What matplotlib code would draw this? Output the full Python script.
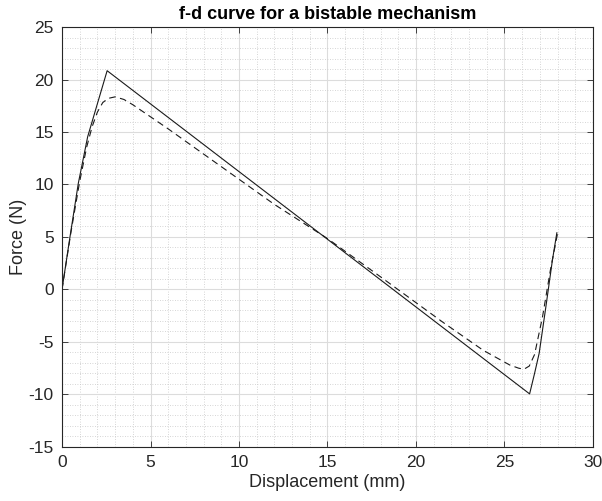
import matplotlib.pyplot as plt
from matplotlib.ticker import MultipleLocator

plt.rcParams['font.family'] = ['Liberation Sans', 'DejaVu Sans']
plt.rcParams['axes.unicode_minus'] = False

# solid curve
solid_x = [0, 0.45, 0.92, 1.45, 2.0, 2.55, 26.42, 26.7, 26.96, 27.34, 27.71, 27.96]
solid_y = [0, 5.0, 10.1, 14.55, 17.7, 20.84, -9.95, -8.0, -6.08, -1.64, 2.81, 5.4]

# dashed curve
dashed_x = [0, 0.5, 1.0, 1.4, 1.7, 2.0, 2.3, 2.6, 3.0, 3.5, 4.0, 6, 8, 10, 12,
            15, 18, 21.5, 23.8, 25.3, 25.8, 26.1, 26.4, 26.7, 27.15, 27.6, 28.0]
dashed_y = [0, 5.4, 10.3, 13.6, 15.5, 16.9, 17.8, 18.2, 18.35, 18.1, 17.6, 15.3,
            12.9, 10.5, 8.1, 4.85, 1.2, -3.1, -5.8, -7.2, -7.5, -7.6, -7.3, -6.2,
            -2.6, 1.9, 5.35]

fig = plt.figure(figsize=(6.02, 5.01), dpi=100)
ax = fig.add_axes([0.103, 0.108, 0.882, 0.838])

ax.plot(solid_x, solid_y, color="#1a1a1a", linewidth=0.8, linestyle="-")
ax.plot(dashed_x, dashed_y, color="#1a1a1a", linewidth=0.8, linestyle=(0, (6, 4)))

ax.set_xlim(0, 30)
ax.set_ylim(-15, 25)
ax.xaxis.set_major_locator(MultipleLocator(5))
ax.yaxis.set_major_locator(MultipleLocator(5))
ax.xaxis.set_minor_locator(MultipleLocator(1))
ax.yaxis.set_minor_locator(MultipleLocator(1))

ax.grid(which="major", color="#dcdcdc", linewidth=0.8, linestyle="-")
ax.grid(which="minor", color="#c8c8c8", linewidth=0.6, linestyle=(0, (1, 2)))
ax.set_axisbelow(True)

ax.tick_params(which="major", direction="in", length=4, top=True, right=True,
               colors="#262626", labelsize=12.5, width=0.6, pad=6)
ax.tick_params(which="minor", length=0)
for s in ax.spines.values():
    s.set_color("#262626")
    s.set_linewidth(0.8)

ax.set_xlabel("Displacement (mm)", fontsize=13, color="#262626", labelpad=3)
ax.set_ylabel("Force (N)", fontsize=13, color="#262626", labelpad=1)
ax.set_title("f-d curve for a bistable mechanism", fontsize=13, fontweight="bold",
             pad=6)

fig.savefig("out.png", dpi=100)
